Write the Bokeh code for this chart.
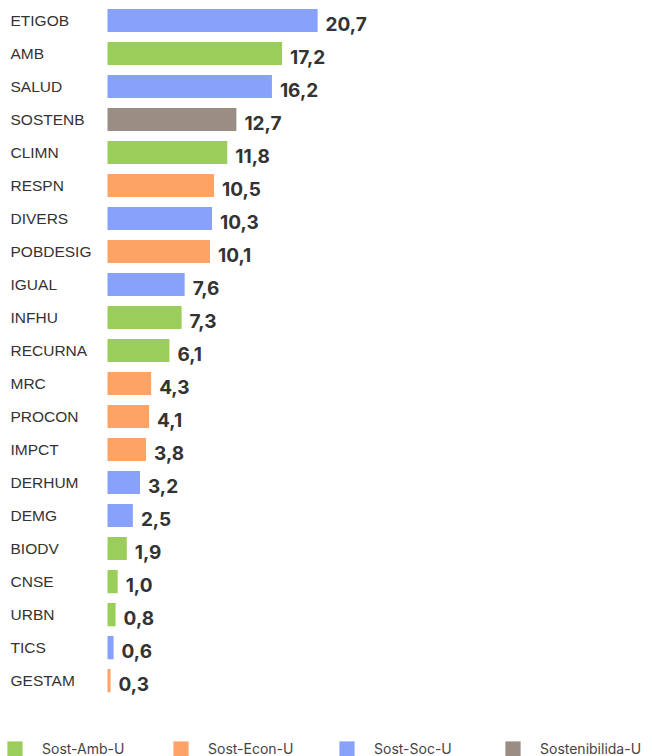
from bokeh.plotting import figure
from bokeh.models import ColumnDataSource, Range1d, Legend, LegendItem, CDSView, GroupFilter
from bokeh.core.properties import value
from bokeh.embed import file_html
from bokeh.resources import INLINE

categories = ["ETIGOB", "AMB", "SALUD", "SOSTENB", "CLIMN", "RESPN", "DIVERS", "POBDESIG",
              "IGUAL", "INFHU", "RECURNA", "MRC", "PROCON", "IMPCT", "DERHUM", "DEMG",
              "BIODV", "CNSE", "URBN", "TICS", "GESTAM"]
values = [20.7, 17.2, 16.2, 12.7, 11.8, 10.5, 10.3, 10.1, 7.6, 7.3, 6.1, 4.3, 4.1, 3.8,
          3.2, 2.5, 1.9, 1.0, 0.8, 0.6, 0.3]
groups = ["Sost-Soc-U", "Sost-Amb-U", "Sost-Soc-U", "Sostenibilida-U", "Sost-Amb-U",
          "Sost-Econ-U", "Sost-Soc-U", "Sost-Econ-U", "Sost-Soc-U", "Sost-Amb-U",
          "Sost-Amb-U", "Sost-Econ-U", "Sost-Econ-U", "Sost-Econ-U", "Sost-Soc-U",
          "Sost-Soc-U", "Sost-Amb-U", "Sost-Amb-U", "Sost-Amb-U", "Sost-Soc-U", "Sost-Econ-U"]
legend_names = ["Sost-Amb-U", "Sost-Econ-U", "Sost-Soc-U", "Sostenibilida-U"]
legend_colors = ["#9BCD5A", "#FCA365", "#88A1FB", "#9A8D84"]

color_map = dict(zip(legend_names, legend_colors))
source = ColumnDataSource(dict(
    y=list(range(len(categories))),
    cat=categories,
    val=values,
    label=[f"{v:.1f}".replace(".", ",") for v in values],
    group=groups,
    color=[color_map[g] for g in groups],
))

px_per_unit = 10.15
x0_px = 107
W, H = 652, 756
xs = -x0_px / px_per_unit
p = figure(width=W, height=H, output_backend="svg", toolbar_location=None,
           x_range=Range1d(xs, xs + W / px_per_unit),
           y_range=Range1d(22.3, -0.606),
           min_border=0, min_border_left=0, min_border_right=0,
           min_border_top=0, min_border_bottom=0)
p.axis.visible = False
p.grid.visible = False
p.outline_line_color = None
p.background_fill_color = "white"
p.border_fill_color = "white"

items = []
for name, col in zip(legend_names, legend_colors):
    view = CDSView(filter=GroupFilter(column_name="group", group=name))
    r = p.hbar(y="y", left=0, right="val", height=0.7, source=source, view=view,
               fill_color=col, line_color=None)
    items.append(LegendItem(label=name, renderers=[r]))

p.text(x=0, y="y", text="cat", source=source, x_offset=-97,
       text_font=value("Liberation Sans"), text_font_size="15.5px", text_color="#333333",
       text_baseline="middle", text_align="left")
p.text(x="val", y="y", text="label", source=source, x_offset=8, y_offset=3,
       text_font=value("Inter"), text_font_size="19px", text_font_style="bold",
       text_color="#333333", text_baseline="middle", text_align="left")

legend = Legend(items=items, orientation="horizontal", location=(5, -2),
                glyph_width=19, glyph_height=19, label_standoff=18, spacing=0,
                label_width=129, label_height=19, padding=0, margin=0,
                border_line_color=None, background_fill_alpha=0,
                label_text_font="Inter", label_text_font_size="14px",
                label_text_color="#444444")
p.add_layout(legend)

open("out.html", "w").write(file_html(p, INLINE))
